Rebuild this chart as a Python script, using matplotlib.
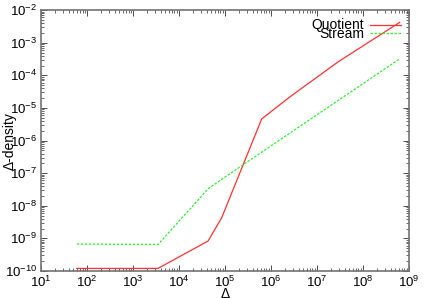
import matplotlib.pyplot as plt
import numpy as np
from matplotlib.ticker import LogLocator, FuncFormatter, NullFormatter

plt.rcParams['font.family'] = ['Liberation Sans', 'DejaVu Sans']
plt.rcParams['mathtext.fontset'] = 'custom'
plt.rcParams['mathtext.rm'] = 'Liberation Sans'
plt.rcParams['mathtext.it'] = 'Liberation Sans'

# Données
delta = [60, 3500, 4.3e4, 8.5e4, 6.3e5, 2.6e6, 2.9e7, 6.3e8]
quotient = [1.2e-10, 1.2e-10, 8.3e-10, 4.3e-9, 4.6e-6, 2.2e-5, 2.6e-4, 4.2e-3]
stream = [6.7e-10, 6.5e-10, 3.3e-8, 6.5e-8, 4.4e-7, 1.7e-6, 1.7e-5, 3.2e-4]

fig = plt.figure(figsize=(4.25, 2.98), dpi=100)
ax = fig.add_axes([0.0965, 0.0906, 0.8655, 0.8754])

ax.plot(delta, quotient, color='#ff3030', lw=0.9, label='Quotient')
ax.plot(delta, stream, color='#33ee33', lw=0.9, ls=(0, (2, 1.2)), label='Stream')

ax.set_xscale('log')
ax.set_yscale('log')
ax.set_xlim(1e1, 1e9)
ax.set_ylim(1e-10, 1e-2)

ax.xaxis.set_major_locator(LogLocator(base=10, numticks=20))
ax.yaxis.set_major_locator(LogLocator(base=10, numticks=20))
ax.xaxis.set_minor_locator(LogLocator(base=10, subs=np.arange(2, 10), numticks=20))
ax.yaxis.set_minor_locator(LogLocator(base=10, subs=np.arange(2, 10), numticks=20))
fmt = FuncFormatter(lambda v, p: r'$10^{%d}$' % round(np.log10(v)))
ax.xaxis.set_major_formatter(fmt)
ax.yaxis.set_major_formatter(fmt)
ax.xaxis.set_minor_formatter(NullFormatter())
ax.yaxis.set_minor_formatter(NullFormatter())

ax.tick_params(which='both', direction='in', top=True, right=True, labelsize=9.5, color='0.3')
ax.tick_params(which='major', length=4, width=0.7, pad=3)
ax.tick_params(which='minor', length=2, width=0.6)
for s in ax.spines.values():
    s.set_color('0.45')
    s.set_linewidth(1.2)

ax.set_xlabel('Δ', fontsize=10, va='top')
ax.xaxis.set_label_coords(0.5, -0.06)
ax.set_ylabel('Δ-density', fontsize=10, va='center')
ax.yaxis.set_label_coords(-0.085, 0.5)

ax.legend(loc='upper right', frameon=False, markerfirst=False, fontsize=10,
          handlelength=2.2, labelspacing=-0.4, borderaxespad=0.2, handletextpad=0.4)

plt.savefig('out.png', dpi=100)
